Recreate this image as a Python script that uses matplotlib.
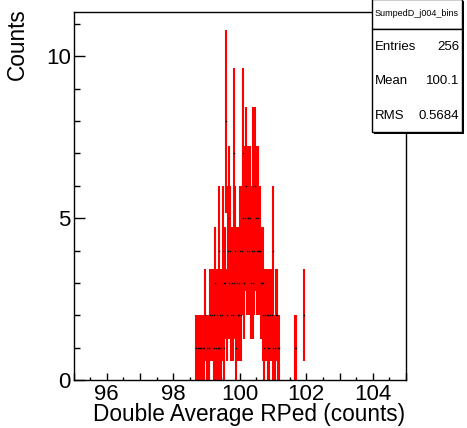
import numpy as np
import matplotlib
matplotlib.use("Agg")
import matplotlib.pyplot as plt
from matplotlib.ticker import MultipleLocator, FuncFormatter
from matplotlib.patches import Rectangle

plt.rcParams['font.family'] = ['Liberation Sans', 'DejaVu Sans']

# ---- data (histogram, bin width 0.025, first bin starts at 98.65) ----
hist_start = 98.65
bin_width = 0.025
counts = [
    0, 1, 0, 1,   1, 0, 1, 1,   0, 1, 1, 0,   2, 0, 1, 0,
    1, 1, 2, 0,   2, 0, 2, 1,   3, 1, 2, 1,   4, 1, 2, 1,
    2, 4, 1, 3,   3, 8, 2, 4,   5, 3, 4, 2,   3, 2, 7, 3,
    4, 1, 3, 2,   3, 2, 4, 2,   4, 7, 5, 3,   5, 6, 4, 5,
    5, 4, 5, 3,   4, 6, 3, 4,   6, 5, 4, 4,   5, 4, 4, 3,
    3, 2, 3, 1,   2, 0, 2, 1,   2, 1, 2, 0,   2, 4, 1, 0,
    1, 2, 2, 0,   1, 1, 0, 0,   0, 0, 0, 0,   0, 0, 0, 0,
    0, 0, 0, 0,   0, 0, 0, 0,   1, 1, 0, 0,   0, 0, 0, 0,
    0, 0, 0, 2,
]
hist_name = "SumpedD_j004_bins"
stat_labels = ["Entries", "Mean", "RMS"]
stat_values = ["256", "100.1", "0.5684"]
x_label = "Double Average RPed (counts)"
y_label = "Counts"

counts = np.array(counts, dtype=float)
centers = hist_start + bin_width * (np.arange(len(counts)) + 0.5)
mask = counts > 0
c = centers[mask]
n = counts[mask]
err = np.sqrt(n)

W, H = 467, 428
fig = plt.figure(figsize=(W / 100, H / 100), dpi=100)
ax = fig.add_axes([73.5 / W, (H - 380) / H, (406 - 73.5) / W, 368 / H])

ax.errorbar(c, n, yerr=err, xerr=bin_width / 2, fmt='none', ecolor='#ff0000',
            elinewidth=1.5, capsize=0, zorder=2)
ax.plot(c, n, linestyle='none', marker='s', markersize=1.0, color='black',
        markeredgewidth=0, zorder=3)

ax.set_xlim(95, 105)
ax.set_ylim(0, 1.05 * (n + err).max())

ax.xaxis.set_major_locator(MultipleLocator(1))
ax.xaxis.set_minor_locator(MultipleLocator(0.5))
ax.xaxis.set_major_formatter(FuncFormatter(
    lambda v, p: f"{int(round(v))}" if int(round(v)) % 2 == 0 else ""))
ax.yaxis.set_major_locator(MultipleLocator(5))
ax.yaxis.set_minor_locator(MultipleLocator(1))

ax.tick_params(axis='both', which='both', direction='in', top=False, right=False,
               labelsize=16, width=1.0)
ax.tick_params(axis='x', which='major', length=5, pad=3)
ax.tick_params(axis='x', which='minor', length=2.5)
ax.tick_params(axis='y', which='major', length=8, pad=2)
ax.tick_params(axis='y', which='minor', length=4)
for s in ax.spines.values():
    s.set_linewidth(1.0)

fig.text(405 / W, 1 - 415 / H, x_label, ha='right', va='center', fontsize=16.3)
fig.text(17 / W, 1 - 8 / H, y_label, ha='center', va='top', rotation=90, fontsize=16.3)

# stats box (in figure pixel coords)
def frect(x0, y0, x1, y1, **kw):
    return Rectangle((x0 / W, 1 - y1 / H), (x1 - x0) / W, (y1 - y0) / H,
                     transform=fig.transFigure, **kw)

fig.patches.append(frect(374, 1, 463.5, 133.5, facecolor='black', edgecolor='none', zorder=10))
fig.patches.append(frect(372, -1, 462, 29, facecolor='white', edgecolor='black', linewidth=1.0, zorder=11))
fig.patches.append(frect(372, 29, 462, 132, facecolor='white', edgecolor='black', linewidth=1.0, zorder=11))
fig.text(417 / W, 1 - 13.5 / H, hist_name, ha='center', va='center', fontsize=6.5, zorder=12)
for i, (lab, val) in enumerate(zip(stat_labels, stat_values)):
    yy = 1 - (47 + i * 34.5) / H
    fig.text(375 / W, yy, lab, ha='left', va='center', fontsize=9.5, zorder=12)
    fig.text(459 / W, yy, val, ha='right', va='center', fontsize=9.5, zorder=12)

fig.savefig("out.png", dpi=100)
